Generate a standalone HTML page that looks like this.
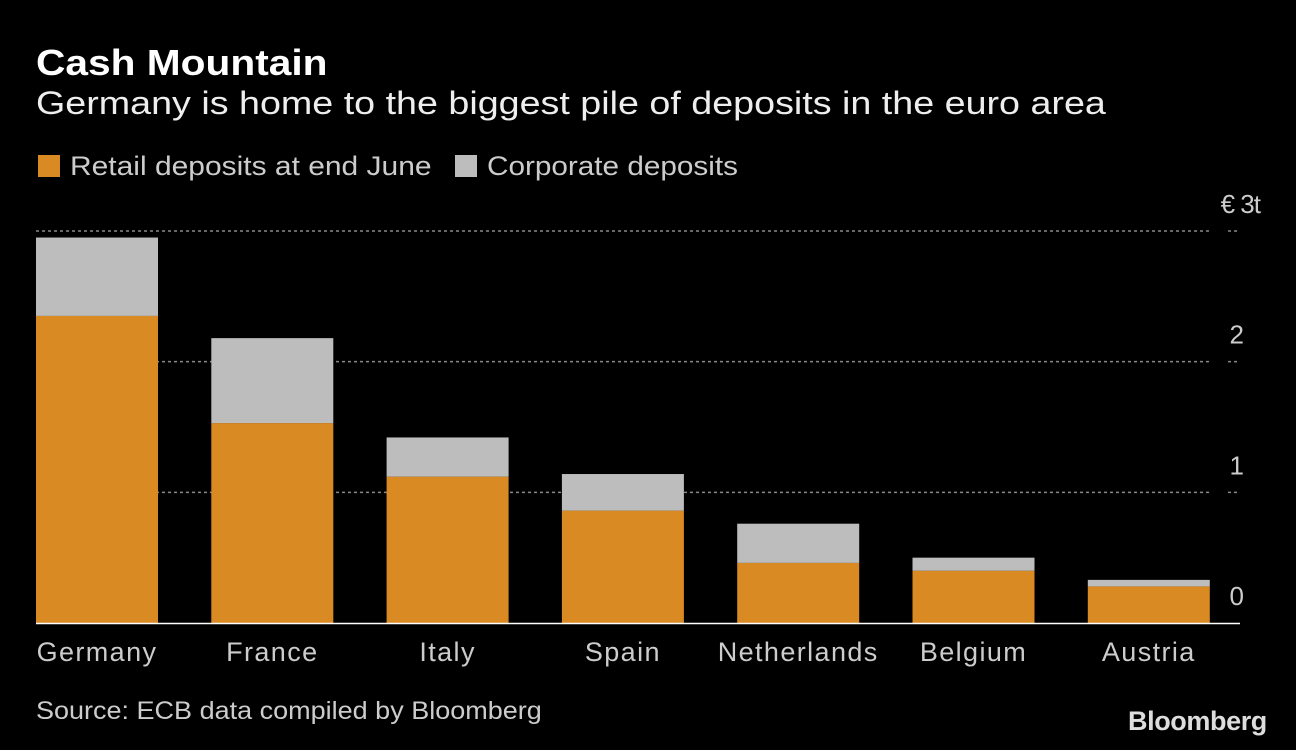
<!DOCTYPE html>
<html><head><meta charset="utf-8"><style>
body{margin:0;background:#000;width:1296px;height:750px;overflow:hidden;font-family:"Liberation Sans","DejaVu Sans",sans-serif;color:#fff}
.t{position:absolute;white-space:nowrap;transform-origin:left top}
</style></head><body>
<div class="t" style="left:36px;top:42px;font-size:36px;font-weight:bold;transform:scaleX(1.13)">Cash Mountain</div>
<div class="t" style="left:36px;top:85px;font-size:32px;color:#eee;transform:scaleX(1.177)">Germany is home to the biggest pile of deposits in the euro area</div>
<div class="t" style="left:38px;top:151px;font-size:27px;color:#ccc"><span style="display:inline-block;width:22px;height:22px;background:#DA8A22;vertical-align:-2px;margin-right:10px"></span><span style="display:inline-block;transform:scaleX(1.11);transform-origin:left">Retail deposits at end June</span></div>
<div class="t" style="left:455px;top:151px;font-size:27px;color:#ccc"><span style="display:inline-block;width:22px;height:22px;background:#BDBDBD;vertical-align:-2px;margin-right:10px"></span><span style="display:inline-block;transform:scaleX(1.1);transform-origin:left">Corporate deposits</span></div>
<svg id="chart" width="1296" height="750" style="position:absolute;left:0;top:0"></svg>
<div class="t" style="left:36px;top:697px;font-size:25px;color:#ccc;transform:scaleX(1.08)">Source: ECB data compiled by Bloomberg</div>
<div class="t" style="left:1128px;top:706px;font-size:27px;font-weight:bold;color:#ddd;letter-spacing:-0.4px">Bloomberg</div>
<script>
const categories=["Germany","France","Italy","Spain","Netherlands","Belgium","Austria"];
const retail=[2.35,1.53,1.12,0.86,0.46,0.40,0.28];
const corporate=[0.60,0.65,0.30,0.28,0.30,0.10,0.05];
const ticks=[0,1,2,3];
const tickLabels=["0","1","2","€ 3t"];
const svg=document.getElementById('chart');
const NS="http://www.w3.org/2000/svg";
const y0=623,unit=130.67,x0=36,step=175.3,bw=122;
const y=v=>y0-v*unit;
function mk(tag,attrs){const e=document.createElementNS(NS,tag);for(const k in attrs)e.setAttribute(k,attrs[k]);svg.appendChild(e);return e;}
ticks.forEach((t,i)=>{
 if(t>0){
  const g=mk('line',{x1:36,x2:1210,y1:y(t),y2:y(t),stroke:'#888','stroke-width':1.5,'stroke-dasharray':'3,3'});
  
  
  const g2=mk('line',{x1:1228,x2:1240,y1:y(t),y2:y(t),stroke:'#888','stroke-width':1.5,'stroke-dasharray':'3,3'});
  
  
 }
 const tx=mk('text',{x:t===3?1260:1244,y:y(t)-18,'text-anchor':'end',fill:'#ccc','font-size':26,'font-family':'Liberation Sans, sans-serif','letter-spacing':t===3?'-1':'0'});
 tx.textContent=tickLabels[i];
 
 
});
categories.forEach((c,i)=>{
 const x=x0+i*step;
 const r=mk('rect',{x:x,y:y(retail[i]),width:bw,height:retail[i]*unit,fill:'#DA8A22'});
 
 
 const k=mk('rect',{x:x,y:y(retail[i]+corporate[i]),width:bw,height:corporate[i]*unit,fill:'#BDBDBD'});
 
 
 const l=mk('text',{x:x+bw/2,y:661,'text-anchor':'middle',fill:'#ccc','font-size':27,'font-family':'Liberation Sans, sans-serif','letter-spacing':'1.4'});
 l.textContent=c;
 
 
});
const b=mk('line',{x1:36,x2:1240,y1:y0+0.5,y2:y0+0.5,stroke:'#fff','stroke-width':1.5});


</script>
</body></html>
